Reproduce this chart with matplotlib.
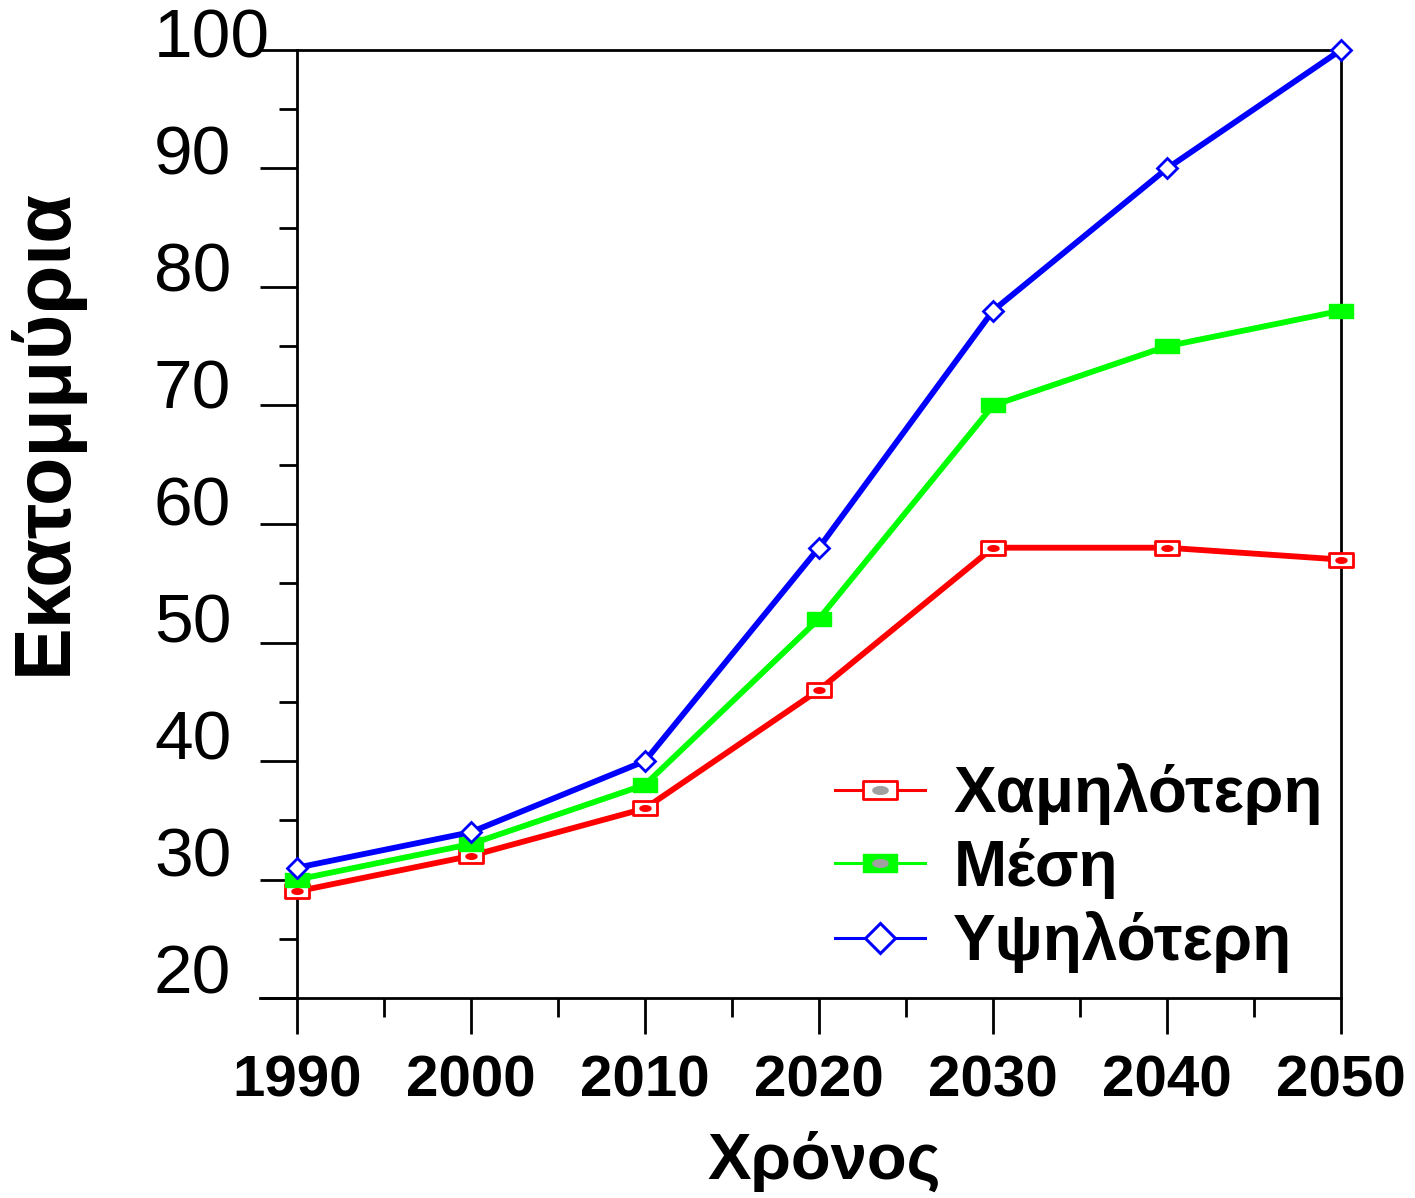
import numpy as np
import matplotlib
matplotlib.use("Agg")
import matplotlib.pyplot as plt
from matplotlib.lines import Line2D
from matplotlib.path import Path
from matplotlib.transforms import ScaledTranslation

plt.rcParams['font.family'] = ['Liberation Sans', 'DejaVu Sans']

# Dati
anni = [1990, 2000, 2010, 2020, 2030, 2040, 2050]
bassa = [29, 32, 36, 46, 58, 58, 57]
media = [30, 33, 38, 52, 70, 75, 78]
alta = [31, 34, 40, 58, 78, 90, 100]
etichette = ['Χαμηλότερη', 'Μέση', 'Υψηλότερη']
y_ticks = [20, 30, 40, 50, 60, 70, 80, 90, 100]

# marcatori rettangolari (piu larghi che alti)
rett = Path([(-1.8, -1), (1.8, -1), (1.8, 1), (-1.8, 1), (-1.8, -1)],
            [Path.MOVETO, Path.LINETO, Path.LINETO, Path.LINETO, Path.CLOSEPOLY])
t = np.linspace(0, 2 * np.pi, 30)
ellisse = Path(np.column_stack([1.6 * np.cos(t), 0.8 * np.sin(t)]))

fig = plt.figure(figsize=(14.15, 11.98), dpi=100)
ax = fig.add_axes([0.2099, 0.1669, 0.9477 - 0.2099, 0.9583 - 0.1669])

ax.plot(anni, bassa, color='red', lw=4.2, marker=rett, ms=17,
        mfc='white', mec='red', mew=2, zorder=3, clip_on=False)
ax.plot(anni, bassa, ls='none', marker=ellisse, ms=8, mfc='red', mec='red',
        zorder=4, clip_on=False)
ax.plot(anni, media, color='#00ff00', lw=4.2, marker=rett, ms=17,
        mfc='#00ff00', mec='#00ff00', zorder=3, clip_on=False)
ax.plot(anni, alta, color='blue', lw=4.2, marker='D', ms=10,
        mfc='white', mec='blue', mew=2, zorder=5, clip_on=False)

ax.set_xlim(1990, 2050)
ax.set_ylim(20, 100)
ax.set_xticks(anni)
ax.set_xticks(np.arange(1995, 2050, 10), minor=True)
ax.set_yticks(y_ticks)
ax.set_yticks(np.arange(25, 100, 10), minor=True)

for s in ax.spines.values():
    s.set_linewidth(2)
ax.spines['bottom'].set_visible(False)

ax.tick_params(axis='y', which='major', direction='out', length=27, width=2,
               labelsize=50, pad=76)
ax.tick_params(axis='y', which='minor', direction='out', length=13, width=2)
ax.tick_params(axis='x', which='major', direction='out', length=26, width=2,
               labelsize=42, pad=15)
ax.tick_params(axis='x', which='minor', direction='out', length=14, width=2)
ax.tick_params(right=False, top=False)
for lab in ax.get_xticklabels():
    lab.set_fontweight('bold')
# etichette y allineate a sinistra, leggermente compresse verso l'alto
for v, lab in zip(y_ticks, ax.get_yticklabels()):
    off_px = -(8 - (100 - v) * 0.16)
    lab.set_horizontalalignment('left')
    lab.set_verticalalignment('baseline')
    lab.set_transform(lab.get_transform() +
                      ScaledTranslation(0, off_px / 100, fig.dpi_scale_trans))

# linea orizzontale in basso, prolungata a sinistra
ax.axhline(20, xmin=-0.035, xmax=1, color='black', lw=2, clip_on=False, zorder=1)

ax.set_ylabel('Εκατομμύρια', fontsize=57, fontweight='bold')
ax.yaxis.set_label_coords(-0.205, 0.597)
ax.set_xlabel('Χρόνος', fontsize=47, fontweight='bold', va='top')
ax.xaxis.set_label_coords(0.505, -0.14)

dot_leg = Line2D([], [], ls='none', marker=ellisse, ms=11, mfc='#a0a0a0', mec='#a0a0a0')
h = [(Line2D([], [], color='red', lw=2.2, marker=rett, ms=24, mfc='white', mec='red', mew=2), dot_leg),
     (Line2D([], [], color='#00ff00', lw=2.2, marker=rett, ms=24, mfc='#00ff00', mec='#00ff00'), dot_leg),
     Line2D([], [], color='blue', lw=2.2, marker='D', ms=15, mfc='white', mec='blue', mew=2.2)]
ax.legend(h, etichette, loc='upper left', bbox_to_anchor=(0.491, 0.275), frameon=False,
          prop={'size': 46, 'weight': 'bold'}, handlelength=1.4, handletextpad=0.45,
          labelspacing=0.2, borderaxespad=0)

fig.savefig('out.png', dpi=100)
